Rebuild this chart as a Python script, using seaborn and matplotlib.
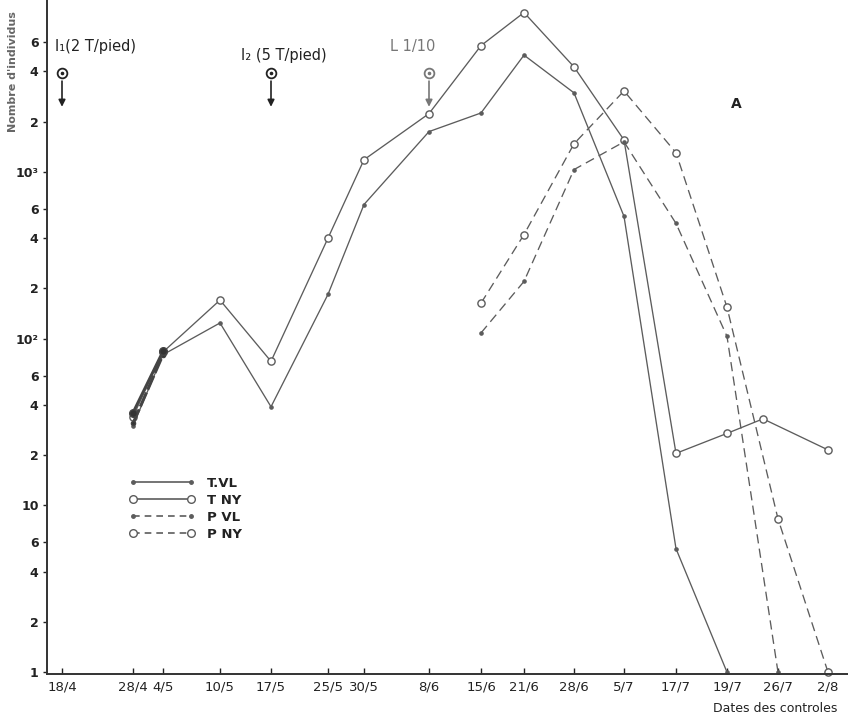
import numpy as np
import pandas as pd
import matplotlib
matplotlib.use("Agg")
import matplotlib.pyplot as plt
import seaborn as sns
from matplotlib.lines import Line2D

# ---------------- data ----------------
dates = ["18/4", "28/4", "4/5", "10/5", "17/5", "25/5", "30/5", "8/6", "15/6",
         "21/6", "28/6", "5/7", "17/7", "19/7", "26/7", "2/8"]
# position of each control date along the (irregular) time axis
date_pos = [1.5, 8.6, 11.6, 17.3, 22.4, 28.1, 31.7, 38.2, 43.4,
            47.7, 52.7, 57.7, 62.9, 68.0, 73.1, 78.1]
extra_dates = ["24/7"]          # unlabeled control
extra_pos = [71.6]

t_vl_dates = ["28/4", "4/5", "10/5", "17/5", "25/5", "30/5", "8/6", "15/6",
              "21/6", "28/6", "5/7", "17/7", "19/7"]
t_vl = [30, 80, 124, 39, 184, 636, 1740, 2250, 5000, 2970, 540, 5.5, 1]

t_ny_dates = ["28/4", "4/5", "10/5", "17/5", "25/5", "30/5", "8/6", "15/6",
              "21/6", "28/6", "5/7", "17/7", "19/7", "24/7", "2/8"]
t_ny = [34, 83, 170, 73, 400, 1180, 2230, 5700, 9000, 4250, 1550, 20.5, 27, 33, 21.5]

p_early_dates = ["28/4", "4/5"]
p_vl_early = [31, 80]
p_ny_early = [36, 84]

p_vl_dates = ["15/6", "21/6", "28/6", "5/7", "17/7", "19/7", "26/7"]
p_vl = [108, 220, 1030, 1510, 490, 103, 1]

p_ny_dates = ["15/6", "21/6", "28/6", "5/7", "17/7", "19/7", "26/7", "2/8"]
p_ny = [163, 420, 1470, 3050, 1300, 154, 8.3, 1]

y_ticks = [1, 2, 4, 6, 10, 20, 40, 60, 100, 200, 400, 600, 1000, 2000, 4000, 6000]
y_ticklabels = ["1", "2", "4", "6", "10", "2", "4", "6", "10²", "2", "4", "6",
                "10³", "2", "4", "6"]

events = ["I₁(2 T/pied)", "I₂ (5 T/pied)", "L 1/10"]
event_dates = ["18/4", "17/5", "8/6"]

# ---------------- figure ----------------
sns.set_theme(style="white")
plt.rcParams["font.family"] = ["DejaVu Sans"]

pos = dict(zip(dates, date_pos))
pos.update(dict(zip(extra_dates, extra_pos)))

fig = plt.figure(figsize=(8.48, 7.19), dpi=100)
ax = fig.add_axes([47 / 848, 45 / 719, 801 / 848, 674 / 719])

LC = "#5c5c5c"


def draw(dl, vals, ls, marker, ms, mfc, lw=0.95, dash=None, color=LC):
    df = pd.DataFrame({"x": [pos[d] for d in dl], "y": vals})
    sns.lineplot(data=df, x="x", y="y", ax=ax, color=color, lw=lw,
                 linestyle=ls, marker=marker, markersize=ms,
                 markerfacecolor=mfc, markeredgecolor=color, markeredgewidth=1.0,
                 clip_on=False, legend=False, sort=False)
    line = ax.lines[-1]
    if dash is not None:
        line.set_dashes(dash)
    return line


draw(t_vl_dates, t_vl, "-", "o", 2.3, LC)
draw(t_ny_dates, t_ny, "-", "o", 5.2, "white")
draw(p_vl_dates, p_vl, "--", "o", 2.3, LC, dash=(7, 4))
draw(p_ny_dates, p_ny, "--", "o", 5.2, "white", dash=(7, 4))
draw(p_early_dates, p_vl_early, "--", "o", 3, "#333333", lw=2.2, dash=(5, 1), color="#444444")
draw(p_early_dates, p_ny_early, "-", "o", 5.5, "#333333", lw=2.0, color="#444444")

ax.set_yscale("log")
ax.set_ylim(0.975, 10700)
ax.set_xlim(0, 80.1)

ax.set_yticks(y_ticks)
ax.set_yticklabels(y_ticklabels)
ax.yaxis.set_minor_locator(matplotlib.ticker.NullLocator())
ax.set_xticks(date_pos)
ax.set_xticklabels(dates)

ax.tick_params(axis="y", direction="out", length=3, width=1, pad=3,
               labelsize=9, colors="#222222", left=True)
ax.tick_params(axis="x", direction="in", length=4, width=1, pad=5,
               labelsize=9.5, colors="#222222", bottom=True)
for lab in ax.get_yticklabels():
    lab.set_fontweight("bold")

for s in ["top", "right"]:
    ax.spines[s].set_visible(False)
for s in ["left", "bottom"]:
    ax.spines[s].set_color("#333333")
    ax.spines[s].set_linewidth(1.4)

ax.set_xlabel("")
ax.set_ylabel("")

# ---------------- event markers ----------------
text_offsets = [(-0.7, 5600), (-3.0, 5000), (-3.9, 5600)]
ev_colors = ["#222222", "#222222", "#777777"]
for name, d, (dx, ty), c in zip(events, event_dates, text_offsets, ev_colors):
    x = pos[d]
    ax.annotate("", xy=(x, 2450), xytext=(x, 3700),
                arrowprops=dict(arrowstyle="-|>", color=c, lw=1.2,
                                mutation_scale=10, shrinkA=3, shrinkB=0))
    ax.plot([x], [3900], marker="o", ms=7, mfc="white", mec=c, mew=1.3, clip_on=False)
    ax.plot([x], [3900], marker="o", ms=1.6, mfc=c, mec=c, clip_on=False)
    ax.text(x + dx, ty, name, fontsize=10.5, color=c, ha="left", va="center")

ax.text(0.86, 0.845, "A", transform=ax.transAxes, fontsize=10,
        fontweight="bold", color="#222222", ha="center", va="center")

# ---------------- legend ----------------
handles = [
    Line2D([], [], color=LC, lw=1.2, ls="-", marker="o", ms=2.5, mfc=LC, markevery=[1]),
    Line2D([], [], color=LC, lw=1.2, ls="-", marker="o", ms=5.5, mfc="white", mec=LC),
    Line2D([], [], color=LC, lw=1.2, ls=(0, (4, 3)), marker="o", ms=2.5, mfc=LC),
    Line2D([], [], color=LC, lw=1.2, ls=(0, (4, 3)), marker="o", ms=5.5, mfc="white", mec=LC),
]
leg = ax.legend(handles, ["T.VL", "T NY", "P VL", "P NY"], loc="upper left",
                bbox_to_anchor=(0.088, 0.31), frameon=False, handlelength=5.0,
                handletextpad=0.9, labelspacing=0.3, fontsize=9.5, numpoints=2)
for t in leg.get_texts():
    t.set_fontweight("bold")
    t.set_color("#222222")

fig.text(13 / 848, 1 - 72 / 719, "Nombre d'individus", rotation=90, fontsize=8,
         color="#666666", ha="center", va="center", fontweight="bold")
fig.text(775 / 848, 1 - 709 / 719, "Dates des controles", fontsize=9,
         color="#222222", ha="center", va="center")

fig.savefig("out.png", dpi=100, facecolor="white")
